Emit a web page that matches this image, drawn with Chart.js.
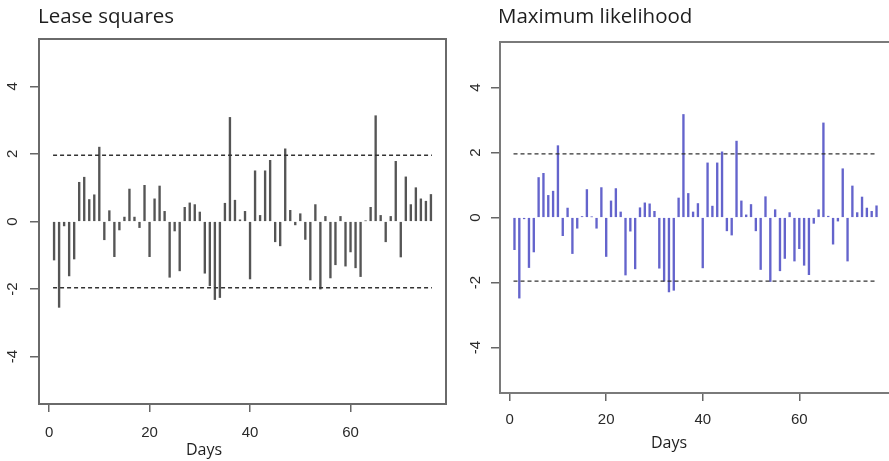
<!DOCTYPE html>
<html>
<head>
<meta charset="utf-8">
<script src="https://cdn.jsdelivr.net/npm/chart.js@4"></script>
<style>
html,body{margin:0;padding:0;background:#fff;width:889px;height:461px;overflow:hidden;}
canvas{position:absolute;top:0;}
#c1{left:0;}
#c2{left:450px;}
</style>
</head>
<body>
<canvas id="c1" width="450" height="461"></canvas>
<canvas id="c2" width="441" height="461"></canvas>
<script>
// ---- data ----
const days = Array.from({length: 76}, (_, i) => i + 1);
const lsResid = [-1.14,-2.54,-0.13,-1.61,-1.11,1.16,1.31,0.65,0.79,2.20,
  -0.54,0.32,-1.04,-0.25,0.13,0.96,0.13,-0.18,1.07,-1.04,
  0.67,1.05,0.30,-1.65,-0.28,-1.46,0.42,0.55,0.50,0.28,
  -1.53,-1.90,-2.31,-2.25,0.54,3.08,0.63,0.05,0.30,-1.70,
  1.50,0.18,1.50,1.81,-0.60,-0.72,2.15,0.33,-0.10,0.23,
  -0.53,-1.73,0.50,-2.00,0.15,-1.67,-1.28,0.15,-1.32,-0.90,
  -1.37,-1.63,0.02,0.42,3.13,0.18,-0.60,0.15,1.78,-1.05,
  1.32,0.50,1.00,0.67,0.60,0.80];
const mlResid = [-0.99,-2.48,-0.04,-1.54,-1.06,1.23,1.36,0.68,0.81,2.21,
  -0.56,0.29,-1.11,-0.33,0.03,0.86,0.02,-0.33,0.92,-1.20,
  0.51,0.89,0.17,-1.77,-0.42,-1.58,0.30,0.45,0.42,0.19,
  -1.56,-1.96,-2.29,-2.24,0.60,3.17,0.74,0.17,0.43,-1.55,
  1.68,0.35,1.68,2.02,-0.41,-0.54,2.35,0.51,0.08,0.40,
  -0.41,-1.60,0.64,-1.97,0.24,-1.64,-1.26,0.15,-1.34,-0.96,
  -1.47,-1.76,-0.18,0.24,2.91,0.04,-0.82,-0.11,1.50,-1.34,
  0.97,0.15,0.63,0.29,0.19,0.36];
const bandLimit = 1.96;
const bandDays = [0.8, 76.2];
const xTicks = [0, 20, 40, 60];
const yTicks = [-4, -2, 0, 2, 4];
const xRange = [-2, 79];
const yRange = [-5.4, 5.4];
const titles = ["Lease squares", "Maximum likelihood"];
const xTitle = "Days";

function makePanel(id, title, values, color, geo) {
  const textPlugin = {
    id: 'rtext',
    afterDraw(chart) {
      const ctx = chart.ctx;
      const a = chart.chartArea;
      const xs = chart.scales.x, ys = chart.scales.y;
      ctx.save();
      // box
      ctx.strokeStyle = geo.boxColor;
      ctx.lineWidth = 2;
      ctx.strokeRect(a.left, a.top, a.right - a.left, a.bottom - a.top);
      // title
      ctx.fillStyle = '#1e1e1e';
      ctx.font = geo.titleFont;
      ctx.textAlign = 'left';
      ctx.textBaseline = 'alphabetic';
      ctx.fillText(title, a.left + geo.titleDx, 22.5);
      // x tick labels
      ctx.font = '15px "Liberation Sans", Arial, sans-serif';
      ctx.fillStyle = '#2a2a2a';
      ctx.textAlign = 'center';
      ctx.textBaseline = 'middle';
      xTicks.forEach(v => ctx.fillText(String(v), xs.getPixelForValue(v), a.bottom + geo.xLabDy));
      // y tick labels (rotated)
      ctx.font = '15px "Liberation Sans", Arial, sans-serif';
      yTicks.forEach(v => {
        ctx.save();
        ctx.translate(a.left - geo.yLabDx, ys.getPixelForValue(v));
        ctx.rotate(-Math.PI / 2);
        ctx.fillText(String(v), 0, 0);
        ctx.restore();
      });
      // axis title
      ctx.font = '16px "Open Sans", sans-serif';
      ctx.fillStyle = '#1e1e1e';
      ctx.fillText(xTitle, a.left + geo.daysDx, a.bottom + geo.daysDy);
      ctx.restore();
    }
  };
  return new Chart(document.getElementById(id), {
    type: 'bar',
    data: {
      datasets: [
        {
          type: 'bar',
          data: days.map((d, i) => ({x: d, y: values[i]})),
          backgroundColor: color,
          borderWidth: 0,
          barThickness: 1.7,
          grouped: false,
          order: 2
        },
        {
          type: 'line',
          data: bandDays.map(d => ({x: d, y: bandLimit})),
          borderColor: '#333', borderWidth: 1.3, borderDash: [4, 3],
          pointRadius: 0, fill: false, order: 1
        },
        {
          type: 'line',
          data: bandDays.map(d => ({x: d, y: -bandLimit})),
          borderColor: '#333', borderWidth: 1.3, borderDash: [4, 3],
          pointRadius: 0, fill: false, order: 1
        }
      ]
    },
    options: {
      responsive: false,
      animation: false,
      devicePixelRatio: 1,
      layout: {padding: {top: geo.top, right: geo.right, left: 0, bottom: 0}},
      plugins: {legend: {display: false}, tooltip: {enabled: false}, title: {display: false}},
      scales: {
        x: {
          type: 'linear', min: xRange[0], max: xRange[1], offset: false,
          afterBuildTicks: s => { s.ticks = xTicks.map(v => ({value: v})); },
          afterFit: s => { s.height = geo.xH; },
          ticks: {display: false},
          grid: {offset: false, drawOnChartArea: false, drawTicks: true, tickLength: 8, tickColor: '#666', lineWidth: 1.5},
          border: {display: false}
        },
        y: {
          type: 'linear', min: yRange[0], max: yRange[1],
          afterBuildTicks: s => { s.ticks = yTicks.map(v => ({value: v})); },
          afterFit: s => { s.width = geo.yW; },
          ticks: {display: false},
          grid: {drawOnChartArea: false, drawTicks: true, tickLength: 9, tickColor: '#666', lineWidth: 1.5},
          border: {display: false}
        }
      }
    },
    plugins: [textPlugin]
  });
}

makePanel('c1', titles[0], lsResid, '#555555',
  {top: 39, right: 4, xH: 57, yW: 39, boxColor: '#6a6a6a', titleFont: '20.5px "Open Sans", sans-serif',
   titleDx: -1, xLabDy: 29, yLabDx: 26, daysDx: 165, daysDy: 46});
makePanel('c2', titles[1], mlResid, '#6464cc',
  {top: 42, right: 0, xH: 68, yW: 50, boxColor: '#7a7a7a', titleFont: '20.5px "Open Sans", sans-serif',
   titleDx: -2, xLabDy: 27, yLabDx: 24, daysDx: 169, daysDy: 50});
</script>
</body>
</html>
